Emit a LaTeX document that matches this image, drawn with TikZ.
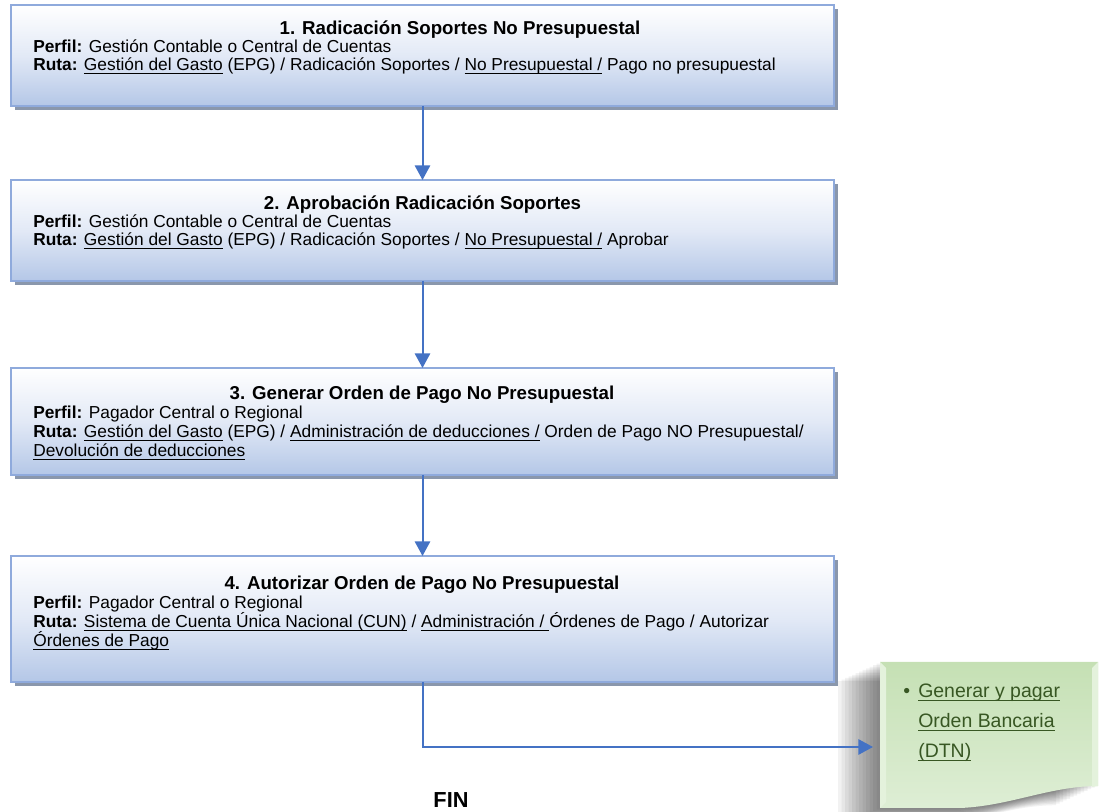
\documentclass[tikz,border=0pt]{standalone}
\usepackage{fontspec}
\setmainfont{Liberation Sans}
\usetikzlibrary{arrows.meta,shadows}
\definecolor{flowblue}{RGB}{68,114,196}
\definecolor{boxline}{RGB}{143,170,220}
\definecolor{boxfill}{RGB}{180,199,231}
\definecolor{boxmid}{RGB}{226,233,246}
\definecolor{boxshade}{RGB}{138,151,172}
\definecolor{notefill}{RGB}{197,224,180}
\definecolor{notelow}{RGB}{222,238,213}
\definecolor{noteedge}{RGB}{228,242,220}
\definecolor{notetext}{RGB}{56,87,35}
\newsavebox\undbox
\newcommand\und[1]{\sbox\undbox{#1}\rlap{\rule[-2pt]{\wd\undbox}{.6pt}}\usebox\undbox}
\begin{document}
\begin{tikzpicture}[x=0.75pt,y=-0.75pt,
  stepbox/.style={draw=boxline,line width=1.5pt,top color=white,bottom color=boxfill,middle color=boxmid,minimum width=617.25pt,inner sep=0pt,outer sep=0pt,drop shadow={shadow xshift=3pt,shadow yshift=-3pt,fill=boxshade,opacity=1}},
  hd/.style={anchor=base,inner sep=0pt,font=\fontsize{14}{16}\selectfont\bfseries},
  ln/.style={anchor=base west,inner sep=0pt,font=\fontsize{13}{15}\selectfont},
  nt/.style={ln,text=notetext,font=\fontsize{14.6}{17}\selectfont},
  flow/.style={draw=flowblue,line width=1.5pt,-{Triangle[length=11pt,width=11.5pt]}}]
\useasboundingbox(0,0)rectangle(1101,812);
% boxes
\node[stepbox,minimum height=75.75pt](b1)at(422.5,55.5){};
\node[stepbox,minimum height=75.75pt](b2)at(422.5,230.5){};
\node[stepbox,minimum height=80.25pt](b3)at(422.5,421.5){};
\node[stepbox,minimum height=94.5pt](b4)at(422.5,619){};
\node[hd](h1)at(460,35){1. Radicación Soportes No Presupuestal};
\node[ln](p1)at(33,53){\textbf{Perfil:} Gestión Contable o Central de Cuentas};
\node[ln](r1)at(33,71){\textbf{Ruta:} \und{Gestión del Gasto} (EPG) / Radicación Soportes / \und{No Presupuestal /} Pago no presupuestal};
\node[hd](h2)at(422.5,210){2. Aprobación Radicación Soportes};
\node[ln](p2)at(33,228){\textbf{Perfil:} Gestión Contable o Central de Cuentas};
\node[ln](r2)at(33,246){\textbf{Ruta:} \und{Gestión del Gasto} (EPG) / Radicación Soportes / \und{No Presupuestal /} Aprobar};
\node[hd](h3)at(422,400){3. Generar Orden de Pago No Presupuestal};
\node[ln](p3)at(33,419){\textbf{Perfil:} Pagador Central o Regional};
\node[ln](r3)at(33,438){\textbf{Ruta:} \und{Gestión del Gasto} (EPG) / \und{Administración de deducciones /} Orden de Pago NO Presupuestal/};
\node[ln](d3)at(33,457){\und{Devolución de deducciones}};
\node[hd](h4)at(422,590){4. Autorizar Orden de Pago No Presupuestal};
\node[ln](p4)at(33,609){\textbf{Perfil:} Pagador Central o Regional};
\node[ln](r4)at(33,628){\textbf{Ruta:} \und{Sistema de Cuenta Única Nacional (CUN)} / \und{Administración /\ }Órdenes de Pago / Autorizar};
\node[ln](o4)at(33,647){\und{Órdenes de Pago}};
% note with shadow
\foreach \d in {1,...,12}\fill[black,opacity=.05,shift={(-3.5*\d,1.6*\d)}](880,662)--(1098,662)--(1098,786)..controls(1050,786)and(1010,806)..(960,808)--(880,808)--cycle;
\path[top color=notefill,bottom color=notelow](880,662)--(1098,662)--(1098,786)..controls(1050,786)and(1010,806)..(960,808)--(880,808)--cycle;
\fill[noteedge](880,662)--(886,668)--(886,802)--(880,808)--cycle;\fill[noteedge](1098,662)--(1092,668)--(1092,787)--(1098,786)--cycle;
\node[nt](bl)at(903,698){\textbullet};
\node[nt](g1)at(918,698){\und{Generar y pagar}};\node[nt](g2)at(918,728){\und{Orden Bancaria}};\node[nt](g3)at(918,758){\und{(DTN)}};
\coordinate(tip)at(873,747);
% connectors
\draw[flow](b1)--(b2);\draw[flow](b2)--(b3);\draw[flow](b3)--(b4);
\draw[flow](b4.south)|-(tip);
\node[anchor=base,inner sep=0pt,font=\fontsize{16.3}{18}\selectfont\bfseries](fin)at(451,808){FIN};
\end{tikzpicture}
\end{document}
